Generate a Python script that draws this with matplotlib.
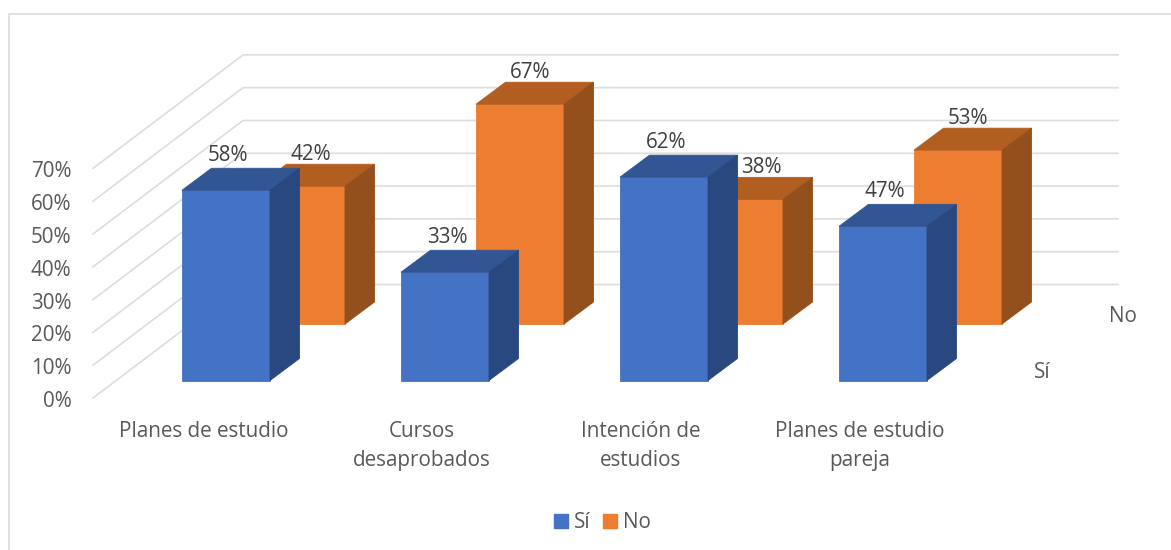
import matplotlib
matplotlib.use("Agg")
import matplotlib.pyplot as plt
from matplotlib.patches import Polygon, Patch

plt.rcParams['font.family'] = ['Open Sans', 'DejaVu Sans']

categorias = ["Planes de estudio", "Cursos\ndesaprobados", "Intención de\nestudios", "Planes de estudio\npareja"]
si = [58, 33, 62, 47]
no = [42, 67, 38, 53]
ticks = [0, 10, 20, 30, 40, 50, 60, 70]

# colores: frente, techo, lado
azul = ["#4472C4", "#325694", "#2A4880"]
naranja = ["#ED7D31", "#B25E20", "#94501C"]
gris = "#595959"
fs = 14.9

esc = 3.28  # px por cada 1%
dx, dy = 29.5, 22  # profundidad de la barra
ancho = 88
paso = 219


def caja(x, base, valor, colores, z):
    top = base - valor * esc
    ax.add_patch(Polygon([(x, base), (x, top), (x + ancho, top), (x + ancho, base)],
                         fc=colores[0], ec=colores[0], lw=0.6, zorder=z))
    ax.add_patch(Polygon([(x, top), (x + dx, top - dy), (x + ancho + dx, top - dy), (x + ancho, top)],
                         fc=colores[1], ec=colores[1], lw=0.6, zorder=z))
    ax.add_patch(Polygon([(x + ancho, base), (x + ancho, top), (x + ancho + dx, top - dy), (x + ancho + dx, base - dy)],
                         fc=colores[2], ec=colores[2], lw=0.6, zorder=z))


fig = plt.figure(figsize=(11.71, 5.5), dpi=100)
ax = fig.add_axes([0, 0, 1, 1])
ax.set_xlim(0, 1171)
ax.set_ylim(550, 0)
ax.axis("off")

# marco del grafico
ax.plot([8.5, 8.5, 1171], [550, 13.5, 13.5], color="#DDDDDD", lw=1.3, zorder=1)

# pared y lineas de la cuadricula
for t in ticks:
    y0 = 398 - t * esc
    y1 = 284.5 - t * esc
    ax.plot([93, 243, 1118], [y0, y1, y1], color="#DDDDDD", lw=1.2, zorder=1, solid_joinstyle="miter")
    ax.text(71.5, y0 + 3.5, f"{t}%", ha="right", va="center", fontsize=fs, color=gris)

# primero las de atras
for i in range(4):
    caja(257 + i * paso, 324, no[i], naranja, 2 + i * 0.01)
for i in range(4):
    x_si = 182 + i * paso
    x_no = 257 + i * paso
    caja(x_si, 380.5, si[i], azul, 3 + i * 0.01)
    ax.text(x_si + 46, 380.5 - si[i] * esc - 35, f"{si[i]}%", ha="center", va="center",
            fontsize=fs, color="#404040", zorder=5)
    # la etiqueta de 38% queda corrida a la derecha en el original
    off = 66 if no[i] == 38 else 54
    ax.text(x_no + off, 324 - no[i] * esc - 32, f"{no[i]}%", ha="center", va="center",
            fontsize=fs, color="#404040", zorder=5)
    ax.text(203.5 + i * 218.7, 421, categorias[i], ha="center", va="top", fontsize=fs,
            color=gris, linespacing=1.5)

ax.text(1042, 373, "Sí", ha="center", va="center", fontsize=fs, color=gris)
ax.text(1123, 316, "No", ha="center", va="center", fontsize=fs, color=gris)

ax.legend(handles=[Patch(color=azul[0], label="Sí"), Patch(color=naranja[0], label="No")],
          loc="center", bbox_to_anchor=(0.5145, 0.05), ncol=2, frameon=False, fontsize=fs,
          labelcolor=gris, handlelength=0.68, handleheight=0.68, handletextpad=0.3,
          columnspacing=0.6, borderpad=0)

fig.savefig("out.png", dpi=100)
